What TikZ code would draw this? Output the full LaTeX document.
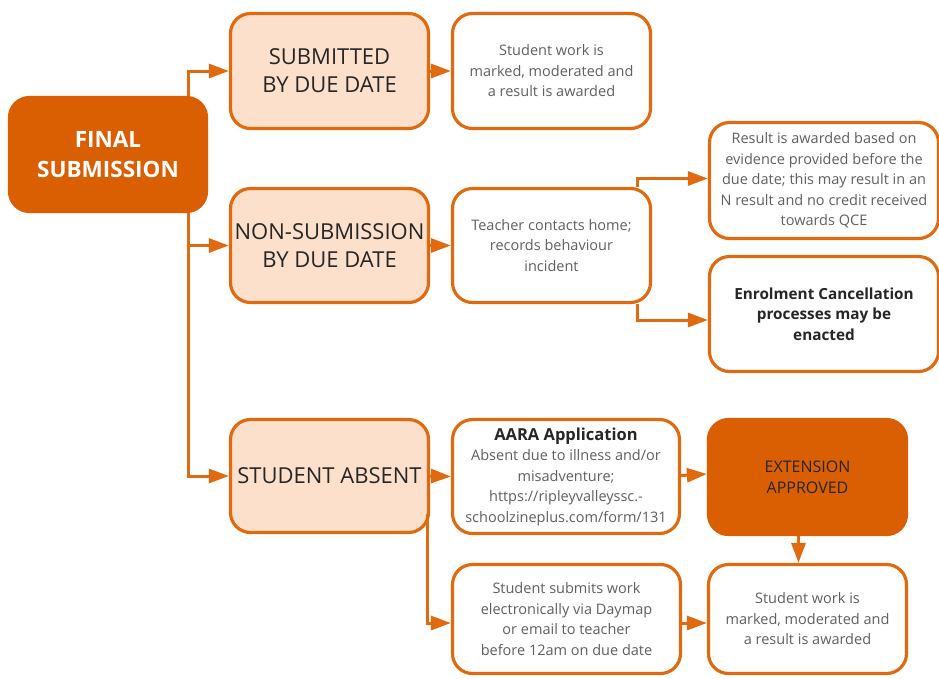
\documentclass[tikz,border=0pt]{standalone}
\usepackage{fontspec}
\setmainfont{Open Sans}
\usetikzlibrary{arrows.meta}
\definecolor{darkor}{HTML}{D95F02}
\definecolor{edgeor}{HTML}{E06A10}
\definecolor{peach}{HTML}{FCE0CC}
\definecolor{txtgray}{HTML}{606060}
\definecolor{txtdark}{HTML}{262626}
\begin{document}
\begin{tikzpicture}[x=1pt,y=-1pt,
  base/.style={rounded corners=20pt, line width=3.2pt, draw=edgeor, align=center, inner sep=0pt},
  darkbox/.style={base, fill=darkor, draw=darkor},
  peachbox/.style={base, fill=peach, text=txtdark, font=\fontsize{22}{28}\selectfont},
  whitebox/.style={base, fill=white, text=txtgray, font=\fontsize{14.5}{20.5}\selectfont},
  conn/.style={draw=edgeor, line width=3pt, -{Triangle[length=20pt,width=14pt]}},
  sz/.style 2 args={minimum width=#1pt, minimum height=#2pt}
]
\clip (0,0) rectangle (939,678);
\fill[white] (0,0) rectangle (939,678);

\node[darkbox, sz={197}{114}, text=white, font=\fontsize{22.5}{30}\selectfont\bfseries] (final) at (108,154.5) {FINAL\\SUBMISSION};

\node[peachbox, sz={198}{115}] (sub) at (329.5,71) {SUBMITTED\\BY DUE DATE};
\node[peachbox, sz={198}{114}] (nonsub) at (329.5,245.5) {NON-SUBMISSION\\BY DUE DATE};
\node[peachbox, sz={198}{113}] (absent) at (329.5,476) {STUDENT ABSENT};

\node[whitebox, sz={198}{115}] (work1) at (551.5,71) {Student work is\\marked, moderated and\\a result is awarded};
\node[whitebox, sz={198}{114}] (teacher) at (551.5,245.5) {Teacher contacts home;\\records behaviour\\incident};
\node[whitebox, sz={229}{116}] (result) at (824,180.5) {Result is awarded based on\\evidence provided before the\\due date; this may result in an\\N result and no credit received\\towards QCE};
\node[whitebox, sz={229}{115}, text=txtdark, font=\fontsize{15.3}{20.5}\selectfont\bfseries] (enrol) at (824,314) {Enrolment Cancellation\\processes may be\\enacted};
\node[whitebox, sz={227}{114}] (aara) at (566,476.5) {{\color{txtdark}\fontsize{16.5}{20}\selectfont\bfseries AARA Application}\\Absent due to illness and/or\\misadventure;\\https://ripleyvalleyssc.-\\schoolzineplus.com/form/131};
\node[darkbox, sz={198}{115}, text=txtdark, font=\fontsize{16}{21}\selectfont] (ext) at (807.5,477) {EXTENSION\\APPROVED};
\node[whitebox, sz={228}{109}] (submits) at (566.5,619) {Student submits work\\electronically via Daymap\\or email to teacher\\before 12am on due date};
\node[whitebox, sz={198}{109}] (work3) at (807.5,619) {Student work is\\marked, moderated and\\a result is awarded};

\coordinate (trunk) at (188,154);
\coordinate (tx) at (637,0);
\draw[conn] (trunk |- final.north) |- (sub.west);
\draw[conn] (trunk |- final.south) |- (nonsub.west);
\draw[conn] (trunk |- final.south) |- (absent.west);
\draw[conn] (sub.east) -- (work1.west);
\draw[conn] (nonsub.east) -- (teacher.west);
\draw[conn] (tx |- teacher.north) |- ([yshift=2pt]result.west);
\draw[conn] (tx |- teacher.south) |- ([yshift=-6pt]enrol.west);
\draw[conn] (absent.east) -- (aara.west);
\draw[conn] ([xshift=-3pt,yshift=20pt]absent.south east) |- ([yshift=-4pt]submits.west);
\draw[conn] ([yshift=1pt]aara.east) -- ([yshift=3pt]ext.west);
\draw[conn] ([xshift=-9pt]ext.south) -- ([xshift=-9pt]work3.north);
\draw[conn] ([yshift=-4pt]submits.east) -- ([yshift=-4pt]work3.west);
\end{tikzpicture}
\end{document}
